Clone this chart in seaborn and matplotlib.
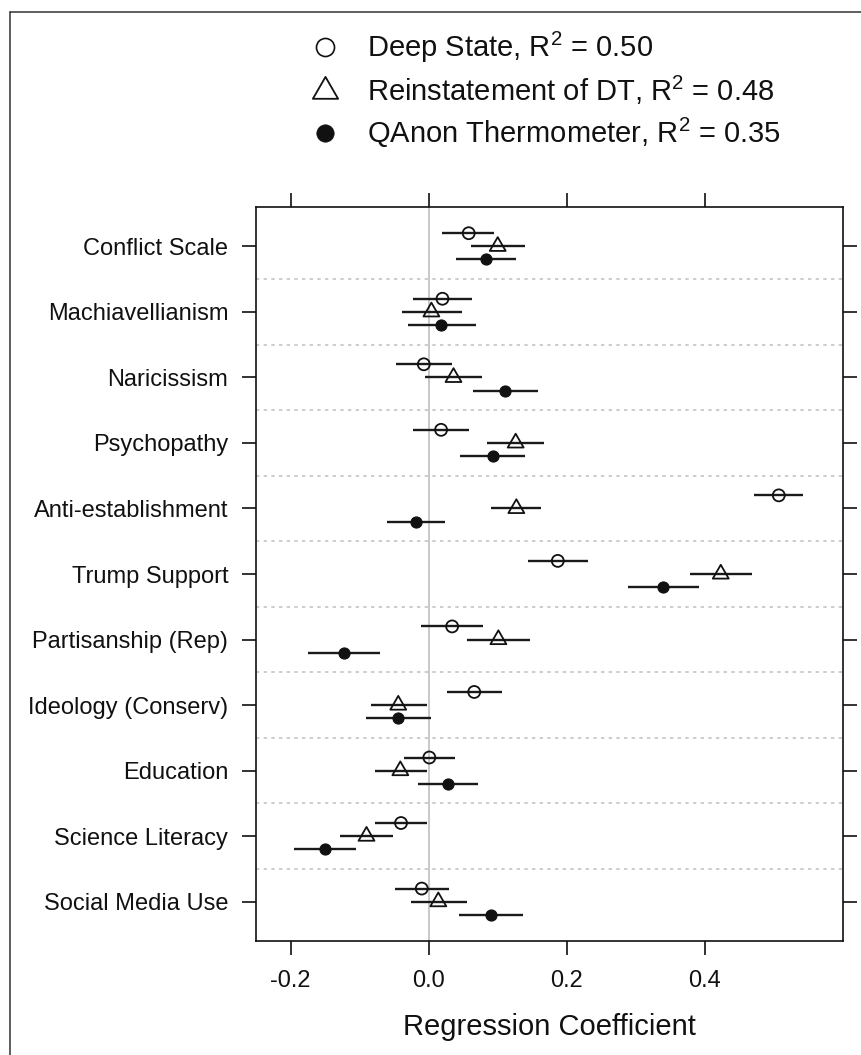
import numpy as np
import pandas as pd
import matplotlib
matplotlib.use("Agg")
import matplotlib.pyplot as plt
import seaborn as sns
from matplotlib.lines import Line2D
from matplotlib.path import Path

# ---------------- data ----------------
categories = ["Conflict Scale", "Machiavellianism", "Naricissism", "Psychopathy",
              "Anti-establishment", "Trump Support", "Partisanship (Rep)",
              "Ideology (Conserv)", "Education", "Science Literacy", "Social Media Use"]

series_names = ["Deep State", "Reinstatement of DT", "QAnon Thermometer"]
r_squared = ["0.50", "0.48", "0.35"]

deep_est = [0.058, 0.020, -0.007, 0.018, 0.507, 0.187, 0.034, 0.066, 0.001, -0.040, -0.010]
deep_lo = [0.020, -0.022, -0.047, -0.022, 0.471, 0.144, -0.011, 0.026, -0.036, -0.078, -0.049]
deep_hi = [0.095, 0.063, 0.034, 0.058, 0.542, 0.231, 0.078, 0.106, 0.038, -0.002, 0.030]

reinst_est = [0.100, 0.004, 0.036, 0.126, 0.127, 0.423, 0.101, -0.044, -0.041, -0.090, 0.014]
reinst_lo = [0.062, -0.038, -0.006, 0.085, 0.091, 0.379, 0.056, -0.084, -0.078, -0.129, -0.026]
reinst_hi = [0.139, 0.048, 0.077, 0.167, 0.163, 0.468, 0.147, -0.002, -0.002, -0.051, 0.055]

qanon_est = [0.083, 0.018, 0.111, 0.093, -0.019, 0.340, -0.123, -0.044, 0.028, -0.150, 0.090]
qanon_lo = [0.040, -0.030, 0.064, 0.046, -0.060, 0.289, -0.175, -0.090, -0.016, -0.195, 0.044]
qanon_hi = [0.127, 0.068, 0.158, 0.140, 0.023, 0.391, -0.070, 0.003, 0.071, -0.105, 0.137]

x_ticks = [-0.2, 0.0, 0.2, 0.4]
x_tick_labels = ["-0.2", "0.0", "0.2", "0.4"]

# ---------------- style ----------------
sns.set_style("ticks")
plt.rcParams["font.family"] = ["Liberation Sans", "DejaVu Sans"]
plt.rcParams["mathtext.fontset"] = "custom"
plt.rcParams["mathtext.rm"] = "Liberation Sans"
plt.rcParams["axes.unicode_minus"] = False

INK = "#111111"
W, H = 862, 1055
fig = plt.figure(figsize=(W / 100, H / 100), dpi=100)
ax = fig.add_axes([256 / W, 1 - 941 / H, (843 - 256) / W, (941 - 207) / H])

# triangle marker (centroid-centred, equilateral)
tri = Path([(0, 0.5774), (-0.5, -0.2887), (0.5, -0.2887), (0, 0.5774)],
           [Path.MOVETO, Path.LINETO, Path.LINETO, Path.CLOSEPOLY])

offsets = [-0.2, 0.0, 0.2]
est_all = [deep_est, reinst_est, qanon_est]
lo_all = [deep_lo, reinst_lo, qanon_lo]
hi_all = [deep_hi, reinst_hi, qanon_hi]

rows = []
for name, off, est, lo, hi in zip(series_names, offsets, est_all, lo_all, hi_all):
    for i, c in enumerate(categories):
        rows.append(dict(series=name, category=c, pos=i + off,
                         est=est[i], lo=lo[i], hi=hi[i]))
df = pd.DataFrame(rows)

# reference lines
ax.axvline(0, color="#c8c8c8", lw=1.4, zorder=0)
for k in range(len(categories) - 1):
    ax.axhline(k + 0.5, color="#c4c4c4", lw=1.2, ls=(0, (2, 2.6)), zorder=0)

# confidence intervals
ax.hlines(df["pos"], df["lo"], df["hi"], color="#1a1a1a", lw=1.7, zorder=2)

# point estimates
marker_specs = {
    "Deep State": dict(marker="o", s=74, facecolor="none", linewidth=1.3),
    "Reinstatement of DT": dict(marker=tri, s=175, facecolor="none", linewidth=1.3),
    "QAnon Thermometer": dict(marker="o", s=64, facecolor=INK, linewidth=0.8),
}
for name in series_names:
    sub = df[df["series"] == name]
    spec = marker_specs[name]
    sns.scatterplot(data=sub, x="est", y="pos", ax=ax, color=INK,
                    edgecolor=INK, zorder=3, legend=False, **spec)

# axes
ax.set_xlim(-0.25, 0.6)
ax.set_ylim(len(categories) - 0.4, -0.6)
ax.set_yticks(range(len(categories)))
ax.set_yticklabels(categories)
ax.set_xticks(x_ticks)
ax.set_xticklabels(x_tick_labels)
ax.set_ylabel("")
ax.set_xlabel("Regression Coefficient", fontsize=21, color=INK)
ax.xaxis.set_label_coords(0.5, (941 - 1035) / (941 - 207))
ax.xaxis.label.set_verticalalignment("baseline")

for sp in ax.spines.values():
    sp.set_visible(True)
    sp.set_linewidth(1.2)
    sp.set_color(INK)
ax.tick_params(axis="both", direction="out", length=10, width=1.2, color=INK,
               top=True, right=True, labeltop=False, labelright=False,
               labelsize=17, labelcolor=INK)
ax.tick_params(axis="x", pad=11)
ax.tick_params(axis="y", pad=10)

# legend
handles = [
    Line2D([], [], ls="none", marker="o", mfc="none", mec=INK, mew=1.2, ms=13),
    Line2D([], [], ls="none", marker=tri, mfc="none", mec=INK, mew=1.3, ms=21),
    Line2D([], [], ls="none", marker="o", mfc=INK, mec=INK, mew=0.5, ms=12.5),
]
labels = [f"{n}, $\\mathregular{{R^2}}$ = {r}" for n, r in zip(series_names, r_squared)]
fig.legend(handles, labels, loc="upper left", bbox_to_anchor=(310 / W, 1 - 30 / H),
           frameon=False, fontsize=21, handlelength=1.0, handletextpad=0.94,
           labelspacing=0.3, borderpad=0, borderaxespad=0, labelcolor=INK)

# figure frame (top and left edges visible in the reference)
fig.add_artist(Line2D([10 / W, 1], [1 - 12 / H, 1 - 12 / H], transform=fig.transFigure,
                      color="#333333", lw=1.1))
fig.add_artist(Line2D([10 / W, 10 / W], [0, 1 - 12 / H], transform=fig.transFigure,
                      color="#333333", lw=1.1))

fig.savefig("out.png", dpi=100)
